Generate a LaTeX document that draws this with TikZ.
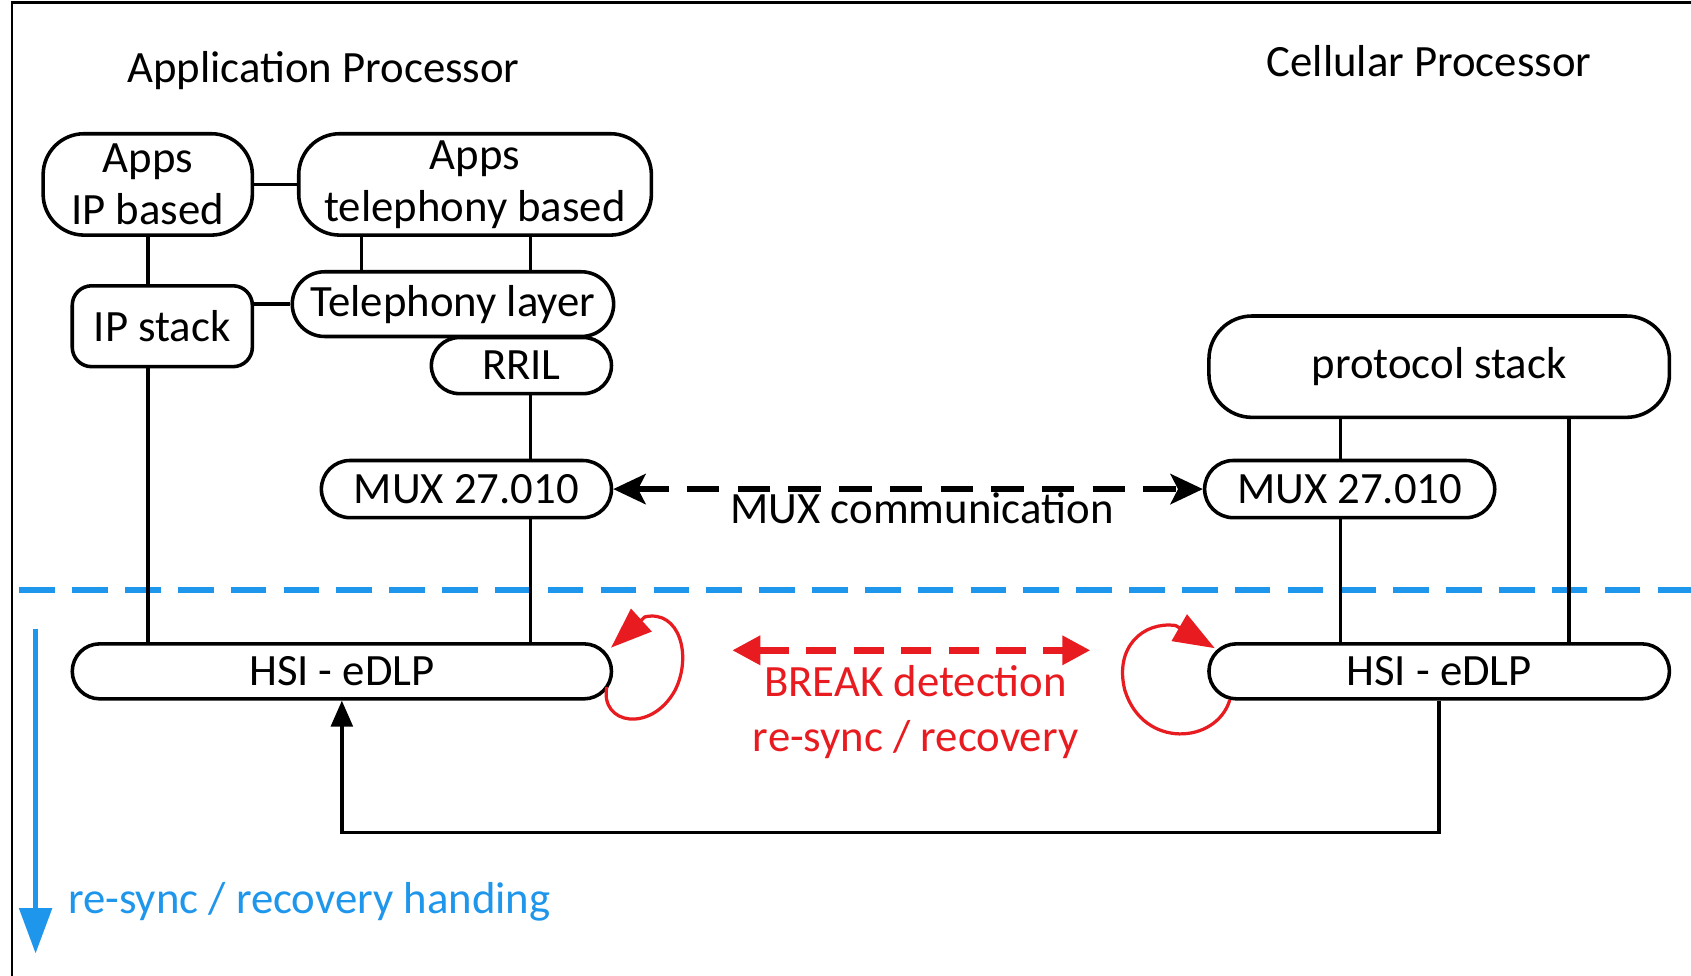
\documentclass[tikz,border=0pt]{standalone}
\usepackage{fontspec}
\setmainfont{Carlito}
\usetikzlibrary{shapes.misc,arrows.meta}
\definecolor{alarmred}{RGB}{232,28,32}
\definecolor{syncblue}{RGB}{30,150,235}
\tikzset{
  lbl/.style={font=\fontsize{41.5}{48}\selectfont, inner sep=0pt, align=center},
  layer/.style={lbl, draw, line width=3.3pt, fill=white},
  pill/.style={layer, rounded rectangle},
  roundbox/.style={layer, rectangle, rounded corners=#1},
  link/.style={line width=3.3pt},
  loop/.style={alarmred, line width=3pt, -{Triangle[length=38pt,width=28pt]}},
}
\begin{document}
\begin{tikzpicture}[x=1pt, y=-1pt]
\useasboundingbox (0,0) rectangle (1568,905);
\fill[white] (0,0) rectangle (1568,905);

% outer frame (top and left edges only)
\coordinate (frameBL) at (11,905);
\coordinate (frameTL) at (11,2.5);
\coordinate (frameTR) at (1568,2.5);
\draw[line width=2.5pt] (frameBL) -- (frameTL) -- (frameTR);

% titles
\node[lbl] (aptitle) at (300,65) {Application Processor};
\node[lbl] (cptitle) at (1325,57) {Cellular Processor};

% separator between upper layers and the HSI link layer
\coordinate (sepL) at (18,547);
\coordinate (sepR) at (1568,547);
\draw[syncblue, line width=5.5pt, dash pattern=on 33pt off 16pt] (sepL) -- (sepR);

% application processor stack
\node[roundbox=38pt, minimum width=194pt, minimum height=94pt] (appsip) at (137,171) {Apps\\IP based};
\node[roundbox=38pt, minimum width=327pt, minimum height=94pt] (appstel) at (440.5,171) {Apps\\telephony based};
\node[roundbox=18pt, minimum width=167pt, minimum height=75pt] (ipstack) at (150.5,302.5) {IP stack};
\node[pill, minimum width=298pt, minimum height=60pt] (tel) at (420,282) {Telephony layer};
\node[pill, minimum width=167pt, minimum height=52pt] (rril) at (483.5,339) {RRIL};
\node[pill, minimum width=269pt, minimum height=53pt] (muxl) at (432.5,453.5) {MUX 27.010};
\node[pill, minimum width=500pt, minimum height=51pt] (hsil) at (317,622.5) {HSI - eDLP};

% cellular processor stack
\node[roundbox=40pt, minimum width=427pt, minimum height=94pt] (proto) at (1334.5,340) {protocol stack};
\node[pill, minimum width=269pt, minimum height=53pt] (muxr) at (1251.5,453.5) {MUX 27.010};
\node[pill, minimum width=427pt, minimum height=51pt] (hsir) at (1334.5,622.5) {HSI - eDLP};

% x positions of the vertical links
\coordinate (ta) at (335,0);
\coordinate (tb) at (492,0);
\coordinate (pa) at (1243,0);
\coordinate (pb) at (1455,0);

\draw[link] (appsip.east) -- (appstel.west);
\draw[link] (tel.west) -- (tel.west -| ipstack.east);
\draw[link] (appsip.south) -- (appsip.south |- ipstack.north);
\draw[link] (appstel.south -| ta) -- (tel.north -| ta);
\draw[link] (appstel.south -| tb) -- (tel.north -| tb);
\draw[link] (rril.south -| tb) -- (muxl.north -| tb);
\draw[link] (muxl.south -| tb) -- (hsil.north -| tb);
\draw[link] (ipstack.south -| appsip.south) -- (hsil.north -| appsip.south);
\draw[link] (proto.south -| pa) -- (muxr.north -| pa);
\draw[link] (muxr.south -| pa) -- (hsir.north -| pa);
\draw[link] (proto.south -| pb) -- (hsir.north -| pb);

% return path from the cellular HSI to the application HSI
\coordinate (back) at (317,772);
\draw[link, -{Triangle[length=24pt,width=20pt]}] (hsir.south) |- (back) -- (hsil.south);

% MUX peer communication
\draw[line width=5pt, dash pattern=on 30pt off 17pt,
      {Stealth[length=30pt,width=28pt,inset=7pt]}-{Stealth[length=30pt,width=28pt,inset=7pt]}] (muxl.east) -- (muxr.west);
\node[lbl] (muxlbl) at (855,471) {MUX communication};

% break detection
\coordinate (brkL) at (679,603);
\coordinate (brkR) at (1011,603);
\draw[alarmred, line width=6pt, dash pattern=on 28pt off 16pt,
      {Triangle[length=26pt,width=26pt]}-{Triangle[length=26pt,width=26pt]}] (brkL) -- (brkR);
\node[lbl, text=alarmred, font=\fontsize{41.5}{51}\selectfont] (brklbl) at (849,660) {BREAK detection\\re-sync / recovery};

% self loops on both HSI layers
\draw[loop]
  ([shift={(-6,14.5)}]hsil.east) .. controls (556,672) and (604,680) .. (626,640)
  .. controls (642,608) and (630,565) .. (598,572) -- ([shift={(-2,-22)}]hsil.east);
\draw[loop]
  ([shift={(21,26.5)}]hsir.west) .. controls (1128,690) and (1060,695) .. (1043,640)
  .. controls (1033,600) and (1060,576) .. (1090,580) -- ([shift={(7,-21.5)}]hsir.west);

% recovery handling direction
\coordinate (flowtop) at (33,583);
\coordinate (flowend) at (33,884);
\draw[syncblue, line width=4pt, -{Triangle[length=42pt,width=30pt]}] (flowtop) -- (flowend);
\node[lbl, text=syncblue, anchor=west] (flowlbl) at (63,836) {re-sync / recovery handing};
\end{tikzpicture}
\end{document}
